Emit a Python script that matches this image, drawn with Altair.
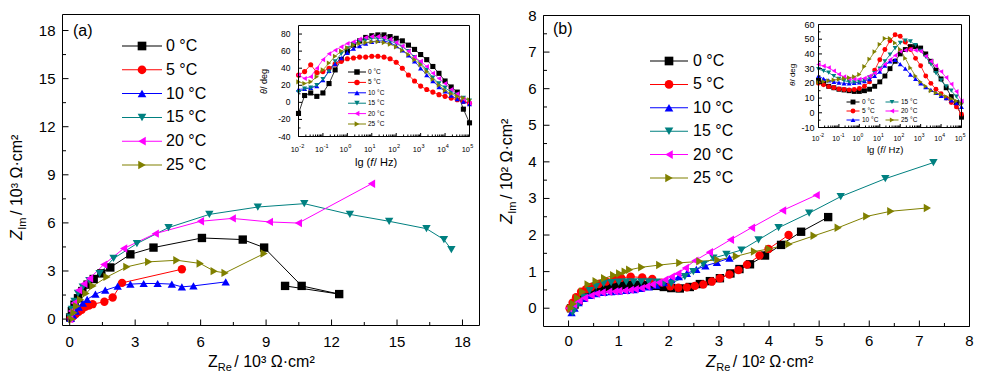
import altair as alt
import pandas as pd

FONT = "Liberation Sans"
LABELS = ["0 °C", "5 °C", "10 °C", "15 °C", "20 °C", "25 °C"]
COLORS = ["#000000", "#FF0000", "#0000FF", "#008080", "#FF00FF", "#808000"]
SHAPES = ["square", "circle", "triangle-up", "triangle-down", "triangle-left", "triangle-right"]

# ---------------- Panel (a): Nyquist, Z / 10^3 ohm cm2 ----------------
A_RE = [
    [0.02, 0.1, 0.22, 0.38, 0.58, 0.82, 1.1, 1.45, 1.86, 2.78, 3.84, 6.06, 7.93, 8.91, 10.63, 12.35, 9.87],
    [0.05, 0.15, 0.28, 0.41, 0.55, 0.72, 0.88, 1.05, 1.59, 1.97, 2.40, 5.14],
    [0.05, 0.15, 0.28, 0.41, 0.6, 0.8, 1.18, 1.63, 2.20, 2.78, 3.39, 4.03, 4.68, 5.14, 5.67, 7.15],
    [0.02, 0.1, 0.22, 0.38, 0.6, 0.9, 1.37, 2.01, 3.08, 4.53, 6.40, 8.62, 10.75, 12.84, 14.64, 16.35, 17.15, 17.49],
    [0.0, 0.08, 0.2, 0.41, 0.65, 0.91, 1.56, 2.47, 3.92, 5.99, 7.45, 9.15, 10.48, 13.83],
    [0.1, 0.2, 0.32, 0.5, 0.75, 1.07, 1.71, 2.62, 3.62, 4.91, 5.98, 6.62, 7.12, 8.91],
]
A_IM = [
    [0.1, 0.5, 0.9, 1.3, 1.75, 2.15, 2.5, 2.85, 3.22, 4.04, 4.46, 5.06, 4.96, 4.46, 2.07, 1.56, 2.07],
    [0.05, 0.18, 0.32, 0.45, 0.58, 0.77, 0.85, 0.93, 1.08, 1.35, 2.26, 3.11],
    [0.05, 0.25, 0.5, 0.75, 1.0, 1.23, 1.56, 1.80, 2.05, 2.18, 2.22, 2.22, 2.18, 2.01, 2.07, 2.32],
    [0.1, 0.6, 1.1, 1.6, 2.0, 2.4, 2.84, 3.78, 4.71, 5.71, 6.53, 6.99, 7.20, 6.53, 6.10, 5.64, 4.96, 4.34],
    [0.0, 0.5, 1.0, 1.8, 2.2, 2.53, 3.40, 4.40, 5.33, 6.10, 6.28, 6.06, 5.99, 8.44],
    [0.0, 0.4, 0.8, 1.2, 1.6, 2.07, 2.63, 3.26, 3.57, 3.67, 3.47, 2.99, 2.88, 4.09],
]

# ---------------- Panel (b): Nyquist, Z / 10^2 ohm cm2 ----------------
B_RE = [
    [0.05, 0.12, 0.2, 0.3, 0.42, 0.55, 0.7, 0.85, 1.0, 1.15, 1.3, 1.45, 1.6, 1.75, 1.9, 2.05, 2.22, 2.42, 2.62, 2.82, 3.02, 3.23, 3.41, 3.62, 3.92, 4.24, 4.64, 5.18],
    [0.02, 0.08, 0.15, 0.25, 0.35, 0.45, 0.6, 0.75, 0.9, 1.05, 1.24, 1.47, 1.67, 1.85, 2.03, 2.19, 2.36, 2.52, 2.69, 2.86, 3.02, 3.21, 3.39, 3.56, 3.81, 3.99, 4.39],
    [0.06, 0.12, 0.2, 0.3, 0.42, 0.55, 0.7, 0.85, 1.0, 1.15, 1.3, 1.45, 1.6, 1.75, 1.9, 2.05, 2.2, 2.36, 2.55, 2.73, 2.96, 3.21],
    [0.08, 0.12, 0.2, 0.3, 0.42, 0.55, 0.7, 0.85, 1.0, 1.15, 1.3, 1.45, 1.6, 1.75, 1.9, 2.05, 2.32, 2.49, 2.69, 2.89, 3.15, 3.45, 3.79, 4.19, 4.80, 5.43, 6.32, 7.28],
    [0.0, 0.1, 0.21, 0.32, 0.45, 0.56, 0.67, 0.8, 0.92, 1.0, 1.12, 1.23, 1.33, 1.45, 1.56, 1.67, 1.8, 1.92, 2.05, 2.18, 2.33, 2.52, 2.81, 3.23, 3.65, 4.27, 4.94],
    [0.05, 0.1, 0.18, 0.28, 0.39, 0.55, 0.72, 0.9, 1.02, 1.13, 1.22, 1.46, 1.82, 2.22, 2.62, 2.98, 3.35, 3.71, 4.0, 4.40, 4.90, 5.38, 5.95, 6.43, 7.16],
]
B_IM = [
    [0.0, 0.1, 0.2, 0.3, 0.4, 0.48, 0.54, 0.58, 0.61, 0.63, 0.64, 0.64, 0.63, 0.61, 0.58, 0.55, 0.54, 0.58, 0.66, 0.74, 0.82, 0.95, 1.07, 1.20, 1.44, 1.73, 2.09, 2.49],
    [0.0, 0.15, 0.3, 0.45, 0.52, 0.58, 0.66, 0.73, 0.79, 0.83, 0.86, 0.84, 0.8, 0.7, 0.6, 0.56, 0.57, 0.61, 0.65, 0.73, 0.82, 0.92, 1.04, 1.19, 1.44, 1.62, 2.0],
    [-0.12, 0.0, 0.15, 0.27, 0.35, 0.4, 0.43, 0.45, 0.47, 0.49, 0.51, 0.54, 0.58, 0.63, 0.7, 0.78, 0.86, 0.95, 1.06, 1.16, 1.25, 1.37],
    [-0.12, -0.02, 0.12, 0.3, 0.48, 0.6, 0.67, 0.7, 0.71, 0.72, 0.72, 0.72, 0.72, 0.71, 0.69, 0.68, 0.86, 1.0, 1.2, 1.37, 1.47, 1.59, 1.87, 2.20, 2.60, 3.05, 3.54, 3.98],
    [0.0, 0.1, 0.2, 0.28, 0.35, 0.4, 0.43, 0.45, 0.46, 0.47, 0.48, 0.5, 0.52, 0.55, 0.6, 0.65, 0.7, 0.78, 0.86, 0.95, 1.1, 1.3, 1.53, 1.87, 2.2, 2.67, 3.09],
    [0.0, 0.12, 0.28, 0.45, 0.65, 0.74, 0.82, 0.9, 0.95, 1.0, 1.05, 1.12, 1.18, 1.24, 1.28, 1.32, 1.42, 1.55, 1.62, 1.75, 1.98, 2.2, 2.51, 2.65, 2.74],
]

# ---------------- Insets: phase angle vs lg f ----------------
LG_F = [-2.0, -1.75, -1.5, -1.25, -1.0, -0.75, -0.5, -0.25, 0.0, 0.25, 0.5, 0.75, 1.0, 1.25, 1.5,
        1.75, 2.0, 2.25, 2.5, 2.75, 3.0, 3.25, 3.5, 3.75, 4.0, 4.25, 4.5, 4.75, 5.0]
IA_PHASE = [
    [-13, 8, 11, 7, 11, 22, 38, 50, 60, 67, 72, 76, 78, 79, 79, 77, 75, 72, 67, 62, 56, 50, 42, 34, 25, 18, 12, -8, -24],
    [32, 36, 44, 35, 36, 40, 45, 48, 51, 52, 53, 53, 54, 54, 53, 51, 47, 40, 32, 25, 19, 15, 12, 9, 7, 5, 3, 1, -1],
    [15, 16, 17, 19, 26, 37, 45, 52, 58, 63, 66, 69, 71, 72, 72, 70, 66, 61, 55, 48, 40, 32, 25, 18, 13, 8, 4, 1, -2],
    [12, 16, 17, 20, 27, 36, 48, 57, 63, 68, 71, 73, 75, 75, 74, 72, 69, 65, 60, 53, 46, 38, 29, 22, 17, 12, 9, 5, 2],
    [32, 28, 30, 40, 50, 57, 61, 65, 69, 71, 74, 76, 77, 77, 76, 74, 70, 66, 60, 53, 48, 42, 34, 28, 22, 15, 10, 4, -1],
    [24, 22, 24, 30, 38, 46, 54, 60, 64, 67, 69, 70, 71, 71, 70, 68, 65, 61, 56, 50, 44, 36, 27, 20, 14, 10, 7, 5, 3],
]
IB_PHASE = [
    [22, 20, 18, 17, 16, 15.5, 15, 14.5, 14.5, 15, 16, 18, 21, 25, 30, 35, 40, 43, 45, 45, 44, 40, 35, 29, 23, 17, 11, 7, -3],
    [20, 19, 17.8, 17, 16.2, 15.8, 15.6, 15.8, 16.5, 18, 21, 29, 36, 43, 49, 53, 52, 48, 43, 37, 32, 25, 20, 16, 13, 10, 7, 4, -1],
    [25, 23, 22, 21, 20.5, 20, 20, 20.3, 20.7, 21.5, 22.9, 25, 28, 32, 35, 36, 33, 30, 26, 23, 20, 17.5, 15.5, 13.5, 11.5, 10, 8.5, 6.5, 4],
    [29.6, 28.5, 27.3, 25, 23, 21.8, 21, 20.7, 21, 22, 24, 27, 30, 35, 39.5, 44, 47.5, 49, 48.5, 46, 42, 38, 33, 27, 22, 18, 15, 11, 6],
    [32.9, 31.8, 30.7, 28.5, 26.2, 24.5, 23, 22.9, 22.9, 23.5, 25, 27, 29.6, 33, 36, 39, 41.8, 42.5, 43, 42.5, 41.8, 38.5, 35, 32, 28, 24, 19.5, 14.5, 8],
    [20.7, 21.2, 21.8, 22.3, 22.8, 23.3, 23.8, 24.5, 26, 31.5, 36.5, 41.5, 46.5, 50.5, 50.5, 47.5, 43, 37, 30.5, 25, 21, 18, 15, 13.5, 12.5, 11, 9.5, 8, 6.2],
]

# ---------------- tick values ----------------
A_MAJOR = [0, 3, 6, 9, 12, 15, 18]
A_MINOR = [1.5, 4.5, 7.5, 10.5, 13.5, 16.5]
B_MAJOR = [0, 1, 2, 3, 4, 5, 6, 7, 8]
B_MINOR = [0.5, 1.5, 2.5, 3.5, 4.5, 5.5, 6.5, 7.5]
DECADES = [1e-2, 1e-1, 1e0, 1e1, 1e2, 1e3, 1e4, 1e5]
EXPONENTS = ["-2", "-1", "0", "1", "2", "3", "4", "5"]
LOG_MINOR = [k * d for d in [1e-2, 1e-1, 1e0, 1e1, 1e2, 1e3, 1e4] for k in range(2, 10)]
IA_YMAJOR = [-40, -20, 0, 20, 40, 60, 80]
IA_YMINOR = [-30, -10, 10, 30, 50, 70]
IB_YMAJOR = [-10, 0, 10, 20, 30, 40, 50, 60]
IB_YMINOR = [-5, 5, 15, 25, 35, 45, 55]

# ---------------- layout (view pixels) ----------------
W_VIEW, H_VIEW = 966, 364
A_L, A_R, A_T, A_B = 54.5, 471.5, 6.5, 317.5
B_L, B_R, B_T, B_B = 535.5, 961.5, 7.5, 318.5
IA_L, IA_R, IA_T, IA_B = 290.5, 461.5, 17.5, 128.5
IB_L, IB_R, IB_T, IB_B = 810.5, 953.5, 16.5, 119.5

COLOR = alt.Color("s:N", scale=alt.Scale(domain=LABELS, range=COLORS), legend=None)
SHAPE = alt.Shape("s:N", scale=alt.Scale(domain=LABELS, range=SHAPES), legend=None)

CW = {"l": .222, "g": .556, " ": .278, "(": .333, ")": .333, "f": .278, "/": .278, "H": .722,
      "z": .5, "θ": .556, "d": .556, "e": .556, "Z": .611, "R": .722, "I": .278, "m": .833,
      "1": .556, "0": .556, "³": .333, "²": .333, "Ω": .768, "·": .333, "c": .5}


def tw(s, size):
    return sum(CW.get(c, .556) for c in s) * size


def one(t):
    return pd.DataFrame({"t": [t]})


def rich(pieces, x, y, angle=0):
    out = []
    off = 0.0
    for text, size, italic, dy, gap in pieces:
        kw = dict(font=FONT, fontSize=size, align="left", baseline="alphabetic",
                  color="black", dx=off, dy=dy)
        if italic:
            kw["fontStyle"] = "italic"
        if angle:
            kw["angle"] = angle
        out.append(alt.Chart(one(text)).mark_text(**kw).encode(
            x=alt.value(x), y=alt.value(y), text="t:N"))
        off += tw(text, size) + gap
    return out


def box(l, r, t, b):
    return alt.Chart(one("")).mark_rect(fillOpacity=0, stroke="black", strokeWidth=1).encode(
        x=alt.value(l), x2=alt.value(r), y=alt.value(t), y2=alt.value(b))


def series_df(xs, ys):
    rows = []
    for k, (xl, yl) in enumerate(zip(xs, ys)):
        for i, (xv, yv) in enumerate(zip(xl, yl)):
            rows.append({"s": LABELS[k], "i": i, "x": xv, "y": yv})
    return pd.DataFrame(rows)


def data_layers(df, xsc, ysc, msize, lw):
    X = alt.X("x:Q", scale=xsc, axis=None)
    Y = alt.Y("y:Q", scale=ysc, axis=None)
    base = alt.Chart(df)
    line = base.mark_line(strokeWidth=lw, opacity=1).encode(x=X, y=Y, color=COLOR, order="i:Q")
    pts = base.mark_point(filled=True, size=msize, opacity=1).encode(x=X, y=Y, color=COLOR, shape=SHAPE)
    return [line, pts]


def xticks(vals, xsc, B, length):
    return alt.Chart(pd.DataFrame({"v": vals})).mark_rule(color="black", strokeWidth=1).encode(
        x=alt.X("v:Q", scale=xsc, axis=None), y=alt.value(B), y2=alt.value(B - length))


def yticks(vals, ysc, L, length):
    return alt.Chart(pd.DataFrame({"v": vals})).mark_rule(color="black", strokeWidth=1).encode(
        y=alt.Y("v:Q", scale=ysc, axis=None), x=alt.value(L), x2=alt.value(L + length))


def xlabels(vals, texts, xsc, y, size, align="center", dx=0, dy=0):
    return alt.Chart(pd.DataFrame({"v": vals, "t": texts})).mark_text(
        font=FONT, fontSize=size, align=align, baseline="alphabetic", color="black", dx=dx, dy=dy).encode(
        x=alt.X("v:Q", scale=xsc, axis=None), y=alt.value(y), text="t:N")


def ylabels(vals, texts, ysc, x, size):
    return alt.Chart(pd.DataFrame({"v": vals, "t": texts})).mark_text(
        font=FONT, fontSize=size, align="right", baseline="middle", color="black").encode(
        y=alt.Y("v:Q", scale=ysc, axis=None), x=alt.value(x), text="t:N")


def legend_group(x0, xgap, y0, ygap, per_col, tick_len, msize, fsize, tdx, lw):
    rows = [{"s": lab, "c": k // per_col, "r": k % per_col} for k, lab in enumerate(LABELS)]
    df = pd.DataFrame(rows)
    X = alt.X("c:Q", scale=alt.Scale(domain=[0, 1], range=[x0, x0 + xgap], nice=False, zero=False), axis=None)
    Y = alt.Y("r:Q", scale=alt.Scale(domain=[0, 1], range=[y0, y0 + ygap], nice=False, zero=False), axis=None)
    base = alt.Chart(df)
    tick = base.mark_tick(orient="horizontal", size=tick_len, thickness=lw, opacity=1).encode(x=X, y=Y, color=COLOR)
    pts = base.mark_point(filled=True, size=msize, opacity=1).encode(x=X, y=Y, color=COLOR, shape=SHAPE)
    txt = base.mark_text(font=FONT, fontSize=fsize, align="left", baseline="middle", dx=tdx,
                         color="black").encode(x=X, y=Y, text="s:N")
    return alt.layer(tick, pts, txt)


def bode_df(phases):
    rows = []
    for k, ph in enumerate(phases):
        for i, (lv, pv) in enumerate(zip(LG_F, ph)):
            rows.append({"s": LABELS[k], "i": i, "x": 10 ** lv, "y": pv})
    return pd.DataFrame(rows)


# ---------------- panel (a) ----------------
xa = alt.Scale(domain=[-0.33, 18.78], range=[A_L, A_R], nice=False, zero=False)
ya = alt.Scale(domain=[-0.4, 19.0], range=[A_B, A_T], nice=False, zero=False)
grp_a = alt.layer(
    *data_layers(series_df(A_RE, A_IM), xa, ya, 70, 1),
    xticks(A_MAJOR, xa, A_B, 6), xticks(A_MINOR, xa, A_B, 3.5),
    yticks(A_MAJOR, ya, A_L, 6), yticks(A_MINOR, ya, A_L, 3.5),
    xlabels(A_MAJOR, [str(v) for v in A_MAJOR], xa, A_B + 21, 15),
    ylabels(A_MAJOR, [str(v) for v in A_MAJOR], ya, A_L - 7, 15),
)

# ---------------- panel (b) ----------------
xb = alt.Scale(domain=[-0.5, 8.0], range=[B_L, B_R], nice=False, zero=False)
yb = alt.Scale(domain=[-0.5, 8.0], range=[B_B, B_T], nice=False, zero=False)
grp_b = alt.layer(
    *data_layers(series_df(B_RE, B_IM), xb, yb, 70, 1),
    xticks(B_MAJOR, xb, B_B, 6), xticks(B_MINOR, xb, B_B, 3.5),
    yticks(B_MAJOR, yb, B_L, 6), yticks(B_MINOR, yb, B_L, 3.5),
    xlabels(B_MAJOR, [str(v) for v in B_MAJOR], xb, B_B + 19, 15),
    ylabels(B_MAJOR, [str(v) for v in B_MAJOR], yb, B_L - 7, 15),
)

# ---------------- inset (a) ----------------
xia = alt.Scale(type="log", domain=[1e-2, 1e5], range=[IA_L, IA_R], nice=False)
yia = alt.Scale(domain=[-40, 90], range=[IA_B, IA_T], nice=False, zero=False)
grp_ia = alt.layer(
    *data_layers(bode_df(IA_PHASE), xia, yia, 26, 0.8),
    xticks(DECADES, xia, IA_B, 3.5), xticks(LOG_MINOR, xia, IA_B, 2),
    yticks(IA_YMAJOR, yia, IA_L, 3.5), yticks(IA_YMINOR, yia, IA_L, 2),
    xlabels(DECADES, ["10"] * 8, xia, IA_B + 15, 7.5, align="right", dx=0.5),
    xlabels(DECADES, EXPONENTS, xia, IA_B + 15, 5.5, align="left", dx=0.8, dy=-4),
    ylabels(IA_YMAJOR, [str(v) for v in IA_YMAJOR], yia, IA_L - 8, 8.5),
)

# ---------------- inset (b) ----------------
xib = alt.Scale(type="log", domain=[1e-2, 1e5], range=[IB_L, IB_R], nice=False)
yib = alt.Scale(domain=[-10, 60], range=[IB_B, IB_T], nice=False, zero=False)
grp_ib = alt.layer(
    *data_layers(bode_df(IB_PHASE), xib, yib, 24, 0.8),
    xticks(DECADES, xib, IB_B, 3.5), xticks(LOG_MINOR, xib, IB_B, 2),
    yticks(IB_YMAJOR, yib, IB_L, 3.5), yticks(IB_YMINOR, yib, IB_L, 2),
    xlabels(DECADES, ["10"] * 8, xib, IB_B + 13, 7, align="right", dx=1),
    xlabels(DECADES, EXPONENTS, xib, IB_B + 13, 5, align="left", dx=1.2, dy=-3.5),
    ylabels(IB_YMAJOR, [str(v) for v in IB_YMAJOR], yib, IB_L - 4, 9),
)

# ---------------- legends ----------------
leg_a = legend_group(134, 10, 38, 23.8, 6, 40, 75, 16, 24, 1)
leg_b = legend_group(661, 10, 53, 23.4, 6, 38, 75, 16, 24, 1)
leg_ia = legend_group(349, 10, 64, 10.4, 6, 18, 30, 6.5, 11, 1)
leg_ib = legend_group(845, 39, 94, 9, 3, 13, 24, 6.5, 9, 1)

# ---------------- texts ----------------
texts = []
texts += rich([("Z", 16, False, 0, 0), ("Re", 11, False, 4, 2.5), (" / 10³ Ω·cm²", 16, False, 0, 0)], 200, 359)
texts += rich([("Z", 16, True, 0, 0.5), ("Re", 11, False, 4, 2.5), (" / 10² Ω·cm²", 16, False, 0, 0)], 698, 359)
texts += rich([("Z", 16, True, 0, 0.5), ("Im", 11, False, 4, 2.5), (" / 10³ Ω·cm²", 16, False, 0, 0)], 13.5, 232, angle=270)
texts += rich([("Z", 16, True, 0, 0.5), ("Im", 11, False, 4, 2.5), (" / 10² Ω·cm²", 16, False, 0, 0)], 504, 216, angle=270)
texts += rich([("θ", 9, True, 0, 0), ("/ deg", 9, False, 0, 0)], 259, 86, angle=270)
texts += rich([("θ", 8, True, 0, 0), ("/ deg", 8, False, 0, 0)], 787, 78, angle=270)
texts += rich([("lg (", 11, False, 0, 0), ("f", 11, True, 0, 0.5), (" / Hz)", 11, False, 0, 0)], 347, 158)
texts += rich([("lg (", 9.5, False, 0, 0), ("f", 9.5, True, 0, 0.5), (" / Hz)", 9.5, False, 0, 0)], 859, 145)
texts += rich([("(a)", 16, False, 0, 0)], 65, 28)
texts += rich([("(b)", 16, False, 0, 0)], 545, 26)

frames = [box(A_L, A_R, A_T, A_B), box(B_L, B_R, B_T, B_B),
          box(IA_L, IA_R, IA_T, IA_B), box(IB_L, IB_R, IB_T, IB_B)]

chart = alt.layer(
    grp_a, grp_b, grp_ia, grp_ib, leg_a, leg_b, leg_ia, leg_ib, *texts, *frames
).resolve_scale(x="independent", y="independent").properties(
    width=W_VIEW, height=H_VIEW, autosize=alt.AutoSizeParams(type="none"), padding=0
).configure_view(strokeWidth=0)

chart.save("out.html", embed_options={"renderer": "svg", "actions": False})
